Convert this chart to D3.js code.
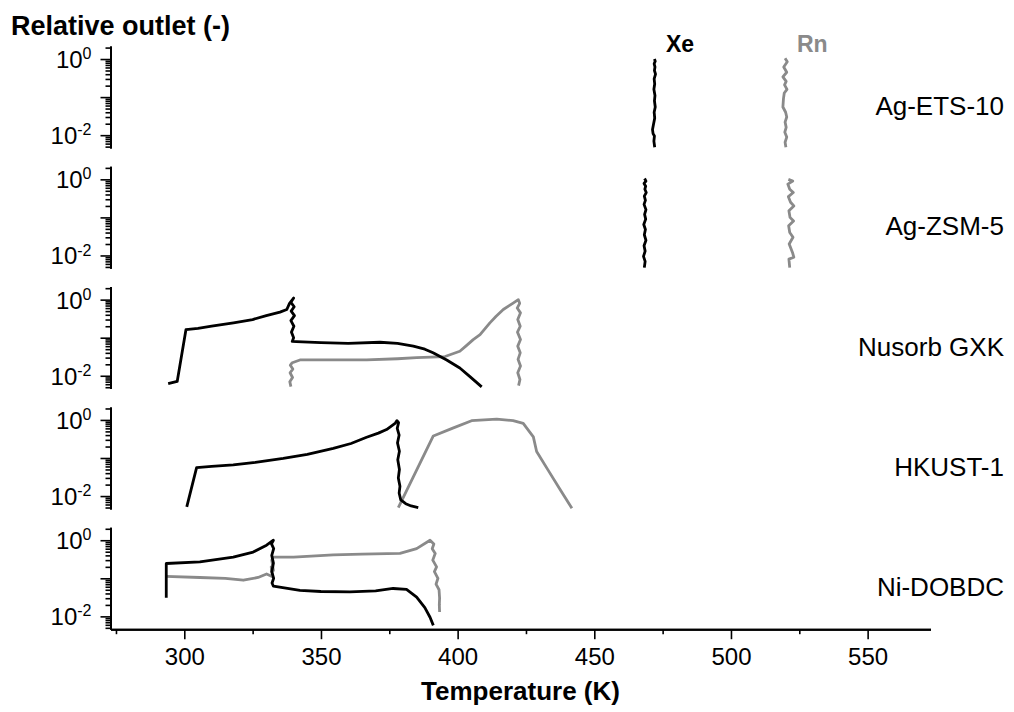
<!DOCTYPE html>
<html>
<head>
<meta charset="utf-8">
<script src="https://cdn.jsdelivr.net/npm/d3@7"></script>
<style>
  body { margin: 0; background: #fff; }
  svg { display: block; font-family: "Liberation Sans", Arial, sans-serif; }
</style>
</head>
<body>
<svg id="chart" width="1014" height="712"></svg>
<script>
// materials, top to bottom
var materials = ["Ag-ETS-10", "Ag-ZSM-5", "Nusorb GXK", "HKUST-1", "Ni-DOBDC"];

// [temperature K, relative outlet]
var etsXe = [[472.0,1.0],[472.3,0.88],[471.9,0.75],[472.2,0.62],[472.0,0.5],[472.4,0.4],[471.9,0.3],[472.1,0.22],[471.8,0.16],[472.2,0.11],[472.0,0.08],[472.3,0.055],[471.9,0.04],[472.1,0.028],[471.7,0.02],[471.3,0.014],[471.5,0.011],[472.0,0.0095],[471.8,0.007],[472.1,0.0048]];
var etsRn = [[519.8,1.05],[520.6,0.85],[519.3,0.62],[520.4,0.45],[519.0,0.34],[520.2,0.26],[519.6,0.21],[520.5,0.16],[519.5,0.128],[519.2,0.09],[519.0,0.055],[520.0,0.04],[520.4,0.03],[519.8,0.022],[520.2,0.016],[519.7,0.012],[520.4,0.0089],[519.8,0.0065],[520.1,0.0048]];

var zsmXe = [[468.4,1.05],[468.9,0.9],[468.2,0.78],[468.8,0.66],[468.5,0.55],[469.0,0.45],[468.3,0.36],[468.7,0.28],[468.2,0.22],[468.9,0.16],[468.4,0.12],[468.8,0.09],[468.1,0.065],[468.7,0.048],[468.3,0.035],[468.9,0.025],[468.2,0.018],[468.6,0.013],[468.0,0.0095],[468.6,0.007],[468.3,0.0048]];
var zsmRn = [[521.0,1.0],[522.6,0.9],[520.8,0.75],[521.5,0.55],[522.8,0.45],[521.0,0.35],[521.8,0.25],[523.0,0.2],[521.2,0.15],[521.6,0.1],[522.9,0.08],[521.1,0.06],[521.5,0.04],[522.7,0.03],[521.3,0.02],[522.5,0.012],[523.0,0.009],[521.2,0.008],[521.5,0.0048]];

var gxkXe = [[294.1,0.0062],[297.4,0.0071],[300.6,0.162],[305,0.175],[310,0.2],[318,0.245],[325,0.3],[330,0.38],[335,0.47],[337.5,0.55],[338.5,0.8],[340.0,1.1],[339.0,0.85],[340.2,0.65],[339.1,0.5],[340.3,0.38],[339.0,0.28],[340.1,0.2],[339.2,0.14],[340.0,0.1],[339.5,0.08],[341,0.079],[350,0.074],[360,0.071],[371.6,0.076],[378,0.071],[383.8,0.06],[388,0.05],[391,0.04],[396,0.026],[400.8,0.016],[404.5,0.0095],[408.8,0.0051]];
var gxkRn = [[339.0,0.0052],[338.6,0.007],[339.6,0.009],[338.7,0.012],[339.7,0.015],[338.8,0.019],[339.5,0.022],[342.3,0.026],[355,0.026],[366.7,0.026],[378,0.028],[385,0.03],[395.4,0.032],[400.8,0.044],[403,0.06],[405.7,0.089],[408.2,0.12],[411.8,0.245],[414,0.36],[416.7,0.55],[420.3,0.81],[422.2,1.0],[422.7,0.8],[421.8,0.6],[423.0,0.45],[422.0,0.3],[422.9,0.2],[421.9,0.14],[423.0,0.09],[422.0,0.06],[422.9,0.04],[422.1,0.027],[423.0,0.018],[422.0,0.012],[422.8,0.008],[422.3,0.0055]];

var hkXe = [[300.9,0.0052],[304.5,0.056],[310,0.06],[317.9,0.066],[326,0.077],[336.2,0.098],[345,0.125],[354.5,0.178],[361,0.24],[366.7,0.35],[371,0.45],[374,0.56],[377.1,0.81],[377.8,0.96],[378.4,0.85],[377.9,0.6],[378.6,0.4],[378.0,0.25],[378.7,0.15],[378.1,0.09],[378.7,0.05],[378.3,0.03],[378.9,0.018],[378.6,0.012],[379.2,0.0079],[381,0.0063],[383,0.0055],[385.6,0.005]];
var hkRn = [[378.3,0.005],[391.1,0.38],[398,0.6],[405.1,0.955],[414.3,1.05],[420.3,0.955],[424,0.81],[427.7,0.36],[428.9,0.148],[433.1,0.048],[437.6,0.0145],[441.8,0.0048]];

var niXe = [[293.4,0.031],[293.4,0.245],[305.7,0.27],[317.9,0.36],[325.2,0.49],[330.1,0.74],[332.6,1.0],[331.9,0.8],[332.7,0.6],[332.0,0.4],[332.6,0.25],[332.0,0.15],[332.7,0.1],[332.1,0.075],[332.6,0.062],[342.3,0.048],[350,0.045],[360.6,0.044],[370,0.047],[376.4,0.054],[381.3,0.051],[385,0.032],[388,0.017],[389.9,0.0095],[391.1,0.0058]];
var niRn = [[293.3,0.112],[305.7,0.105],[315,0.1],[321.6,0.089],[327,0.105],[330.1,0.13],[332.3,0.11],[331.8,0.2],[332.6,0.16],[332.0,0.3],[332.6,0.36],[340,0.36],[354.5,0.41],[365,0.43],[378.9,0.45],[385,0.6],[389.9,1.0],[391.3,0.8],[390.7,0.6],[391.8,0.45],[390.9,0.3],[392.3,0.2],[391.5,0.15],[392.8,0.1],[392.1,0.07],[393.2,0.05],[393.4,0.03],[393.3,0.02],[393.4,0.013]];

var xeSeries = [etsXe, zsmXe, gxkXe, hkXe, niXe];
var rnSeries = [etsRn, zsmRn, gxkRn, hkRn, niRn];

var xTicks = [300, 350, 400, 450, 500, 550];
var xMinor = [275, 325, 375, 425, 475, 525];
var yMajor = [1, 0.1, 0.01];
var yLabeled = {"1": "0", "0.01": "-2"};

var black = "#000", gray = "#8a8a8a";

//layout
var axisX = 110.5, right = 930.5;
var firstTop = 46, step = 120.3, panelH = 102;

var svg = d3.select("#chart");
var x = d3.scaleLinear().domain([273, 573]).range([axisX, right]);

// minor ticks of a log axis: 2..9 x 10^k inside the domain
function logMinors(dom){
    var out = [];
    for(var k = -3; k <= 1; k++)
        for(var m = 2; m <= 9; m++){
            var v = m * Math.pow(10, k);
            if(v >= dom[0] && v <= dom[1]) out.push(v);
        }
    return out;
}

materials.forEach(function(name, i){
    var top = firstTop + i * step;
    var y = d3.scaleLog().domain([0.0046, 2.2]).range([top + panelH, top]);
    var g = svg.append("g");

    g.append("clipPath").attr("id", "clip" + i)
        .append("rect").attr("x", axisX).attr("y", top - 4)
        .attr("width", right - axisX).attr("height", panelH + 6);

    // y axis: minor then major ticks
    var minorAx = g.append("g").attr("transform", "translate(" + axisX + ",0)")
        .call(d3.axisLeft(y).tickValues(logMinors(y.domain())).tickSize(5).tickSizeOuter(0).tickFormat(""));
    var majorAx = g.append("g").attr("transform", "translate(" + axisX + ",0)")
        .call(d3.axisLeft(y).tickValues(yMajor).tickSize(10).tickSizeOuter(0).tickFormat(""));
    [minorAx, majorAx].forEach(function(a){
        a.select(".domain").attr("stroke-width", 2);
        a.selectAll(".tick line").attr("stroke-width", 1.6);
    });

    majorAx.selectAll(".tick").each(function(d){
        var exp = yLabeled[String(d)];
        if(exp === undefined) return;
        var t = d3.select(this).select("text")
            .attr("font-size", 24).attr("fill", "#000").attr("x", -19).attr("dy", "0.35em");
        t.append("tspan").text("10");
        t.append("tspan").attr("font-size", 16).attr("dy", "-0.55em").text(exp);
    });

    // curves
    var line = d3.line().x(function(d){ return x(d[0]); }).y(function(d){ return y(d[1]); });
    var curves = g.append("g").attr("clip-path", "url(#clip" + i + ")");
    curves.append("path").datum(rnSeries[i])
        .attr("d", line).attr("fill", "none").attr("stroke", gray)
        .attr("stroke-width", 2.8).attr("stroke-linejoin", "round");
    curves.append("path").datum(xeSeries[i])
        .attr("d", line).attr("fill", "none").attr("stroke", black)
        .attr("stroke-width", 2.8).attr("stroke-linejoin", "round");

    g.append("text").attr("x", 1004).attr("y", top + 69)
        .attr("text-anchor", "end").attr("font-size", 26).text(name);
});

// x axis
var bottom = firstTop + 4 * step + panelH;
var xMinorAx = svg.append("g").attr("transform", "translate(0," + bottom + ")")
    .call(d3.axisBottom(x).tickValues(xMinor).tickSize(5).tickSizeOuter(0).tickFormat(""));
var xAx = svg.append("g").attr("transform", "translate(0," + bottom + ")")
    .call(d3.axisBottom(x).tickValues(xTicks).tickSize(10).tickSizeOuter(0).tickPadding(9));
[xMinorAx, xAx].forEach(function(a){
    a.select(".domain").attr("stroke-width", 2);
    a.selectAll(".tick line").attr("stroke-width", 1.6);
});
xAx.selectAll("text").attr("font-size", 24).attr("fill", "#000")
    .attr("font-family", "'Liberation Sans', Arial, sans-serif");

svg.append("text").attr("x", (axisX + right) / 2).attr("y", 700)
    .attr("text-anchor", "middle").attr("font-size", 26).attr("font-weight", "bold")
    .text("Temperature (K)");
svg.append("text").attr("x", 11).attr("y", 35)
    .attr("font-size", 27).attr("font-weight", "bold").text("Relative outlet (-)");

// legend words
svg.append("text").attr("x", 666).attr("y", 52).attr("font-size", 23)
    .attr("font-weight", "bold").attr("fill", black).text("Xe");
svg.append("text").attr("x", 797).attr("y", 52).attr("font-size", 23)
    .attr("font-weight", "bold").attr("fill", gray).text("Rn");
</script>
</body>
</html>
